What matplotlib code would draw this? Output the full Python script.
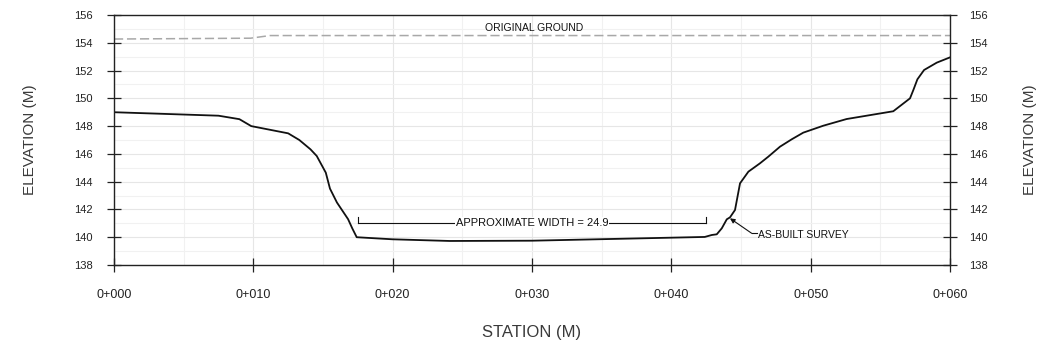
import matplotlib
matplotlib.use("Agg")
import matplotlib.pyplot as plt
from matplotlib.ticker import MultipleLocator, FuncFormatter

plt.rcParams['font.family'] = ['Liberation Sans', 'DejaVu Sans']

# ---- data ----
survey_x = [0, 7.5, 9.0, 9.85, 12.5, 13.3, 14.1, 14.55, 15.2, 15.5, 16.0, 16.8, 17.1, 17.42,
            20, 24.1, 30, 36, 42.4, 42.9, 43.26, 43.62, 43.98, 44.21, 44.57, 44.93, 45.53,
            46.36, 46.96, 47.8, 48.64, 49.47, 50.91, 52.58, 55.93, 57.13, 57.37, 57.66,
            58.14, 59.05, 60]
survey_y = [149.0, 148.75, 148.5, 148.0, 147.48, 147.0, 146.33, 145.85, 144.65, 143.5, 142.5,
            141.3, 140.64, 140.0, 139.85, 139.73, 139.75, 139.88, 140.02, 140.16, 140.21,
            140.64, 141.29, 141.43, 141.96, 143.88, 144.72, 145.32, 145.8, 146.52, 147.05,
            147.53, 148.03, 148.51, 149.07, 150.0, 150.6, 151.37, 152.04, 152.57, 152.95]

ground_x = [0, 5, 9.8, 11.2, 60]
ground_y = [154.27, 154.3, 154.33, 154.52, 154.52]

width_start, width_end, width_elev = 17.54, 42.47, 141.05
width_label = "APPROXIMATE WIDTH = 24.9"
ground_label = "ORIGINAL GROUND"
survey_label = "AS-BUILT SURVEY"
survey_tip = (44.21, 141.36)
survey_knee = (45.77, 140.28)

x_ticks = [0, 10, 20, 30, 40, 50, 60]
y_ticks = [138, 140, 142, 144, 146, 148, 150, 152, 154, 156]

# ---- figure ----
fig = plt.figure(figsize=(10.4, 3.49), dpi=100)
ax = fig.add_axes([114/1040, 1-265/349, 836/1040, 250/349])
ax.set_xlim(0, 60)
ax.set_ylim(138, 156)

ax.set_xticks(x_ticks)
ax.set_yticks(y_ticks)
ax.xaxis.set_minor_locator(MultipleLocator(5))
ax.yaxis.set_minor_locator(MultipleLocator(1))
ax.xaxis.set_major_formatter(FuncFormatter(lambda v, p: "0+%03d" % int(round(v))))

ax.grid(which='major', color='#e6e6e6', lw=0.8)
ax.grid(which='minor', color='#f1f1f1', lw=0.8)
ax.set_axisbelow(True)

ax.tick_params(which='major', direction='inout', length=10, width=0.9, colors='#222222',
               labelsize=8)
ax.tick_params(which='minor', length=0)
ax.tick_params(axis='x', pad=12.5, labelsize=9)
ax.tick_params(axis='y', pad=10.5)
for s in ax.spines.values():
    s.set_linewidth(1.0)
    s.set_color('#222222')

ax2 = ax.twinx()
ax2.set_ylim(138, 156)
ax2.set_yticks(y_ticks)
ax2.tick_params(direction='inout', length=10, width=0.9, colors='#222222', labelsize=8, pad=8.7)
for s in ax2.spines.values():
    s.set_visible(False)

ax.plot(ground_x, ground_y, color='#a8a8a8', lw=1.1, dashes=(6, 2.5))
ax.plot(survey_x, survey_y, color='#111111', lw=1.3)

# width dimension
ax.plot([width_start, width_end], [width_elev, width_elev], color='#111111', lw=0.8)
ax.plot([width_start, width_start], [width_elev, width_elev+0.43], color='#111111', lw=0.8)
ax.plot([width_end, width_end], [width_elev, width_elev+0.43], color='#111111', lw=0.8)
ax.text((width_start+width_end)/2, width_elev, width_label, ha='center', va='center',
        fontsize=8, color='#111111',
        bbox=dict(facecolor='white', edgecolor='none', pad=0.5))

ax.text(30.15, 155.05, ground_label, ha='center', va='center', fontsize=7.5, color='#111111')

ax.annotate('', xy=survey_tip, xytext=survey_knee,
            arrowprops=dict(arrowstyle='-|>', lw=0.8, color='#111111', mutation_scale=7,
                            shrinkA=0, shrinkB=0))
ax.plot([survey_knee[0], survey_knee[0]+0.35], [survey_knee[1], survey_knee[1]],
        color='#111111', lw=0.8)
ax.text(46.25, 140.15, survey_label, ha='left', va='center', fontsize=7.5, color='#111111')

ax.set_xlabel("STATION (M)", fontsize=12, color='#3a3a3a')
ax.xaxis.set_label_coords(0.5, -0.272)
ax.xaxis.label.set_va('center')
ax.set_ylabel("ELEVATION (M)", fontsize=11, color='#3a3a3a')
ax.yaxis.set_label_coords(-0.1005, 0.5)
ax.yaxis.label.set_va('center')
ax2.set_ylabel("ELEVATION (M)", fontsize=11, color='#3a3a3a', rotation=90)
ax2.yaxis.set_label_coords(1.0957, 0.5)
ax2.yaxis.label.set_va('center')

fig.savefig("out.png", dpi=100)
